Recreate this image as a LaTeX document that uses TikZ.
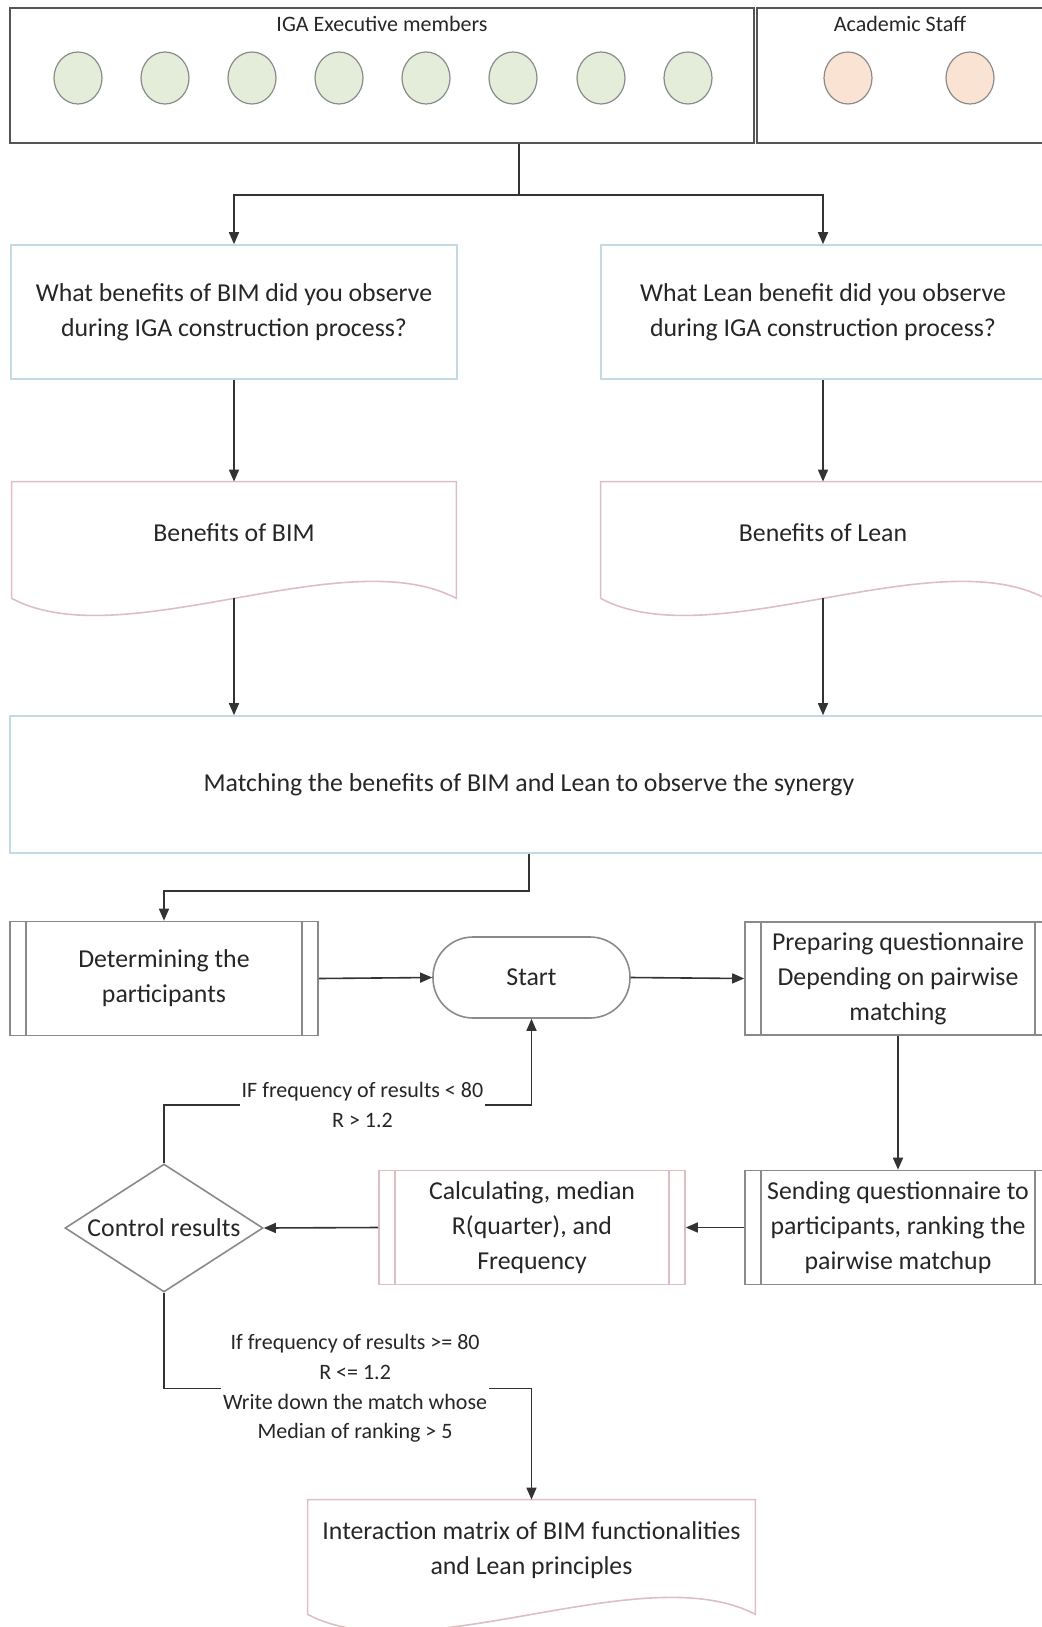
\documentclass[tikz,border=0pt]{standalone}
\usepackage{fontspec}
\setmainfont{Carlito}
\usetikzlibrary{arrows.meta,calc,shapes.geometric}
\definecolor{fink}{HTML}{262626}
\definecolor{fline}{HTML}{333333}
\definecolor{groupgray}{HTML}{555555}
\definecolor{procgray}{HTML}{8A8A8A}
\definecolor{skyline}{HTML}{C3DAE3}
\definecolor{pinkline}{HTML}{DDBFC3}
\definecolor{exgreen}{HTML}{E4ECDA}
\definecolor{acorange}{HTML}{FBE3D3}
\tikzset{
  >={Triangle[length=6pt,width=5pt]},
  ftext/.style={font=\fontsize{12.9}{17.5}\selectfont,align=center,text=fink},
  fsmall/.style={font=\fontsize{11}{14.8}\selectfont,align=center,text=fink},
  flabel/.style={fsmall,fill=white,inner sep=1pt},
  flow/.style={->,draw=fline,line width=.8pt},
  groupbox/.style={rectangle,draw=groupgray,line width=1.2pt},
  member/.style={ellipse,draw=procgray,line width=.6pt,minimum width=24pt,minimum height=26pt,inner sep=0pt},
  qbox/.style={rectangle,draw=skyline,line width=.8pt,ftext,minimum height=67pt},
  docbox/.style={rectangle,ftext,minimum height=51pt},
  docline/.style={draw=pinkline,line width=.8pt},
  procbox/.style={rectangle,draw=procgray,line width=.8pt,ftext,inner sep=2pt,
    minimum width=153pt,minimum height=57pt,
    path picture={\draw[draw=procgray,line width=.8pt]
      ([xshift=8pt]path picture bounding box.north west) -- ([xshift=8pt]path picture bounding box.south west)
      ([xshift=-8pt]path picture bounding box.north east) -- ([xshift=-8pt]path picture bounding box.south east);}},
  termbox/.style={rectangle,rounded corners=20pt,draw=procgray,line width=.8pt,ftext,
    minimum width=98.5pt,minimum height=40.5pt},
  decbox/.style={diamond,draw=procgray,line width=.8pt,ftext,inner sep=0pt,aspect=1.55,
    minimum width=99pt,minimum height=64pt}
}
\begin{document}
\begin{tikzpicture}[x=.5pt,y=-.5pt]
  \useasboundingbox (0,0) rectangle (1041,1627);

  % participants
  \node[groupbox,minimum width=372pt,minimum height=67.5pt] (iga) at (382,75.5) {};
  \node[groupbox,minimum width=145pt,minimum height=67.5pt] (acad) at (902,75.5) {};
  \node[fsmall] (igatitle) at (382,24) {IGA Executive members};
  \node[fsmall] (acadtitle) at (900,24) {Academic Staff};
  \foreach \x [count=\i] in {78,165,252,339,426,513,601,688}
    \node[member,fill=exgreen] (e\i) at (\x,78) {};
  \foreach \x [count=\i] in {848,970}
    \node[member,fill=acorange] (a\i) at (\x,78) {};

  % questions and benefits
  \node[qbox,minimum width=223pt] (bimq) at (234,312)
    {What benefits of BIM did you observe\\during IGA construction process?};
  \node[qbox,minimum width=222pt] (leanq) at (823,312)
    {What Lean benefit did you observe\\during IGA construction process?};
  \node[docbox,minimum width=222pt] (bimdoc) at (234,533) {Benefits of BIM};
  \node[docbox,minimum width=222pt] (leandoc) at (823,533) {Benefits of Lean};
  \node[qbox,minimum width=519pt,minimum height=68.5pt] (match) at (529,784.5)
    {Matching the benefits of BIM and Lean to observe the synergy};

  % delphi loop
  \node[procbox,minimum width=154pt] (det) at (164,978.5) {Determining the\\participants};
  \node[termbox] (start) at (531.5,977.5) {Start};
  \node[procbox,minimum height=56.5pt] (prep) at (898,978.5)
    {Preparing questionnaire\\Depending on pairwise\\matching};
  \node[procbox] (send) at (898,1227.5)
    {Sending questionnaire to\\participants, ranking the\\pairwise matchup};
  \node[procbox,draw=pinkline,path picture={\draw[draw=pinkline,line width=.8pt]
      ([xshift=8pt]path picture bounding box.north west) -- ([xshift=8pt]path picture bounding box.south west)
      ([xshift=-8pt]path picture bounding box.north east) -- ([xshift=-8pt]path picture bounding box.south east);}]
    (calc) at (532,1227.5) {Calculating, median\\R(quarter), and\\Frequency};
  \node[decbox] (ctrl) at (164,1228) {Control results};
  \node[docbox,minimum width=223.5pt,minimum height=50pt] (inter) at (531.5,1550)
    {Interaction matrix of BIM functionalities\\and Lean principles};

  \foreach \d/\c in {bimdoc/111,leandoc/111,inter/112}
    \draw[docline] ([yshift=-7pt]\d.south west) -- (\d.north west) -- (\d.north east) --
      ([yshift=-7pt]\d.south east) .. controls +(-\c,-59) and +(\c,59) .. ([yshift=-7pt]\d.south west);

  % connectors
  \coordinate (split) at (519,195);
  \draw[draw=fline,line width=.8pt] (iga.south -| split) -- (split);
  \draw[flow] (split) -| (bimq.north);
  \draw[flow] (split) -| (leanq.north);
  \draw[flow] (bimq.south) -- (bimdoc.north);
  \draw[flow] (leanq.south) -- (leandoc.north);
  \draw[flow] ([yshift=-7pt]bimdoc.south) -- (bimdoc.south |- match.north);
  \draw[flow] ([yshift=-7pt]leandoc.south) -- (leandoc.south |- match.north);
  \draw[flow] (match.south) -- ++(0,37) -| (det.north);
  \draw[flow] (det.east) -- (start.west);
  \draw[flow] (start.east) -- (prep.west);
  \draw[flow] (prep.south) -- (send.north);
  \draw[flow] (send.west) -- (calc.east);
  \draw[flow] (calc.west) -- (ctrl.east);
  \draw[flow] (ctrl.north) -- ++(0,-58) -| node[flabel,pos=.27]
    {IF frequency of results < 80\\R > 1.2} (start.south);
  \draw[flow] (ctrl.south) |- node[flabel,pos=.76]
    {If frequency of results >= 80\\R <= 1.2\\Write down the match whose\\Median of ranking > 5}
    ($(inter.north)+(0,-111)$) -- (inter.north);
\end{tikzpicture}
\end{document}
